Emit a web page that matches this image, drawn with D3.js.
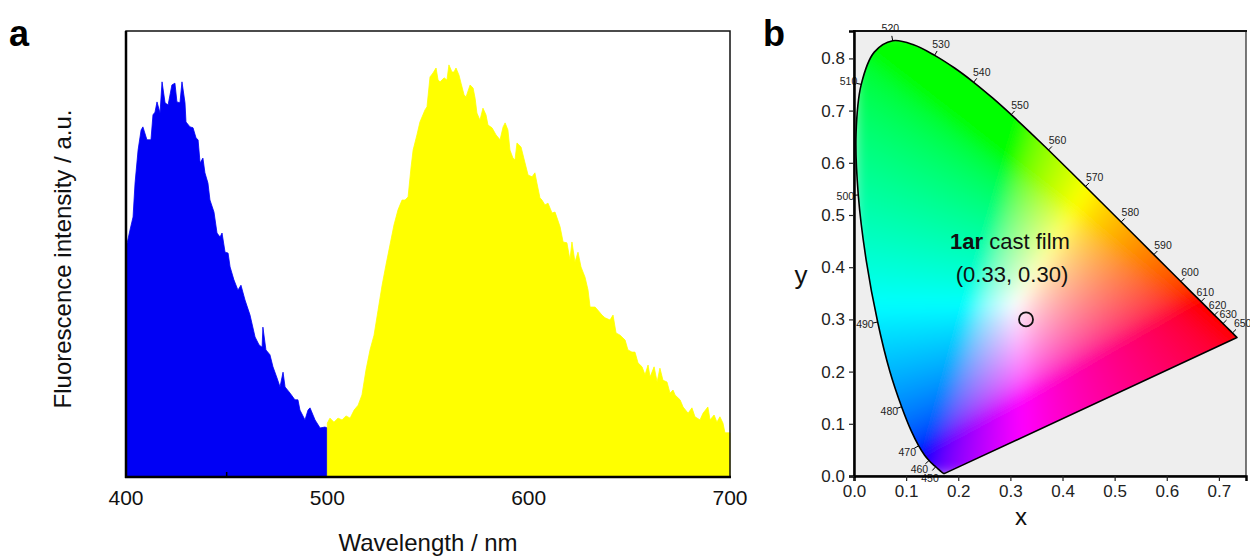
<!DOCTYPE html>
<html>
<head>
<meta charset="utf-8">
<script src="https://cdn.jsdelivr.net/npm/d3@7"></script>
<style>
  body { margin:0; background:#fff; }
  svg { font-family: "Liberation Sans", Arial, sans-serif; }
</style>
</head>
<body>
<svg id="chart" width="1250" height="556"></svg>
<script>
// panel a: emission spectrum, [wavelength nm, intensity a.u.]
let blueSpectrum = [[400,51.3],[402,55.4],[403.5,58.3],[404.5,65.9],[406,73.3],[407.5,77.8],[408.4,78.5],[410.4,75.6],[412.4,75.6],[413.4,81.2],
  [414.4,81.8],[415.4,84.1],[416.9,81.6],[417.9,88.6],[419.4,83.9],[420.9,83.4],[422.8,87.9],[424.3,88.3],[425.3,84.1],[426.8,83.9],
  [427.8,88.6],[429.3,83.9],[429.8,79.6],[431.8,78.5],[433.3,78.3],[434.8,76.0],[435.8,75.6],[436.8,70.4],[438.2,71.5],[439.2,68.2],
  [440.7,65.9],[441.7,62.1],[443.7,59.4],[445.2,54.7],[446.7,53.8],[447.7,54.7],[449.2,50.4],[450.7,50.2],[451.7,47.1],[453.6,44.2],
  [455.6,41.9],[457.1,43.0],[459.1,39.7],[461.6,36.3],[464.1,31.4],[466.1,29.6],[467.6,29.1],[468,33.6],[469.5,28.5],[471.5,27.4],
  [473,24.7],[475,22.2],[476.5,20.2],[478,23.5],[479,20.2],[481.5,18.8],[483.9,17.3],[485.4,17.3],[486.4,15.0],[488.9,12.8],
  [490.4,15.0],[491.4,15.5],[493.9,12.8],[496.4,11.0],[498.8,11.2],[500,11.0]];
let yellowSpectrum = [[500,12.1],[501.3,13.2],[503.3,12.3],[505.3,13.2],[507.3,12.8],[509.3,13.7],[511.3,13.2],[513.3,15.0],[515.3,16.1],[517.2,18.4],
  [519.2,24.0],[521.2,28.5],[523.2,31.8],[525.2,37.4],[527.2,43.0],[529.1,47.5],[531.1,52.0],[533.1,56.5],[535.1,59.9],[537.1,62.1],
  [538.6,62.1],[540.1,62.8],[541.6,69.5],[542.6,73.3],[544.5,76.7],[546,79.6],[548.5,82.3],[549.5,83.0],[551,89.7],[552.5,90.6],
  [554,91.7],[555,89.0],[556,88.6],[558,89.5],[559.4,89.0],[560.4,92.4],[561.9,90.8],[562.9,90.8],[563.9,91.7],[565.4,90.1],
  [566.4,88.3],[567.9,85.7],[568.9,85.2],[570.9,87.9],[572.4,87.2],[573.4,84.9],[574.3,81.6],[575.8,80.0],[577.3,82.7],[578.8,81.2],
  [579.8,78.9],[581.8,78.3],[583.8,76.7],[585.8,75.6],[587.3,78.5],[588.3,79.4],[589.7,77.8],[590.7,73.3],[592.2,71.5],[593.2,71.1],
  [594.2,74.9],[596.2,74.0],[598.2,70.4],[599.7,67.7],[601.7,67.3],[603.1,68.2],[604.1,65.9],[605.6,62.6],[606.6,62.1],[608.1,61.0],
  [609.6,61.4],[611.6,59.2],[613.1,59.4],[615.6,56.1],[617.1,52.7],[619,52.5],[620.5,48.7],[621.5,52.7],[623,48.2],[624.5,50.4],
  [626,47.1],[628,44.8],[629.5,41.9],[630.5,38.1],[633,38.1],[634.4,37.4],[636.4,36.3],[637.9,35.7],[640.4,35.2],[641.9,36.3],
  [643.4,32.3],[645.4,31.8],[647.9,30.7],[649.3,28.5],[651.3,28.0],[652.8,28.0],[654.3,25.6],[656.3,24.7],[657.8,22.9],[659.3,25.1],
  [660.3,22.4],[662.3,24.7],[663.8,21.3],[665.2,24.4],[666.7,21.7],[668.7,21.3],[670.2,18.8],[671.7,19.5],[672.7,18.4],[675.2,17.3],
  [676.7,15.7],[679.2,14.3],[681.1,15.5],[682.6,13.5],[685.1,12.8],[686.6,14.3],[689,15.7],[690.1,12.8],[692.1,13.9],[693.5,12.3],
  [695,13.5],[696.5,12.1],[697.5,9.9],[700,9.9]];
let wlTicks = [400, 500, 600, 700];
let wlMinorTicks = [450];

// panel b: CIE 1931 spectral locus [nm, x, y]
let locus = [[380,0.1741,0.0050],[385,0.1740,0.0050],[390,0.1738,0.0049],[395,0.1736,0.0049],[400,0.1733,0.0048],[405,0.1730,0.0048],
  [410,0.1726,0.0048],[415,0.1721,0.0048],[420,0.1714,0.0051],[425,0.1703,0.0058],[430,0.1689,0.0069],[435,0.1669,0.0086],
  [440,0.1644,0.0109],[445,0.1611,0.0138],[450,0.1566,0.0177],[455,0.1510,0.0227],[460,0.1440,0.0297],[465,0.1355,0.0399],
  [470,0.1241,0.0578],[475,0.1096,0.0868],[480,0.0913,0.1327],[485,0.0687,0.2007],[490,0.0454,0.2950],[495,0.0235,0.4127],
  [500,0.0082,0.5384],[505,0.0039,0.6548],[510,0.0139,0.7502],[515,0.0389,0.8120],[520,0.0743,0.8338],[525,0.1142,0.8262],
  [530,0.1547,0.8059],[535,0.1929,0.7816],[540,0.2296,0.7543],[545,0.2658,0.7243],[550,0.3016,0.6923],[555,0.3373,0.6589],
  [560,0.3731,0.6245],[565,0.4087,0.5896],[570,0.4441,0.5547],[575,0.4788,0.5202],[580,0.5125,0.4866],[585,0.5448,0.4544],
  [590,0.5752,0.4242],[595,0.6029,0.3965],[600,0.6270,0.3725],[605,0.6482,0.3514],[610,0.6658,0.3340],[615,0.6801,0.3197],
  [620,0.6915,0.3083],[625,0.7006,0.2993],[630,0.7079,0.2920],[635,0.7140,0.2859],[640,0.7190,0.2809],[645,0.7230,0.2770],
  [650,0.7260,0.2740],[655,0.7283,0.2717],[660,0.7300,0.2700],[665,0.7311,0.2689],[670,0.7320,0.2680],[675,0.7327,0.2673],
  [680,0.7334,0.2666],[685,0.7340,0.2660],[690,0.7344,0.2656],[695,0.7346,0.2654],[700,0.7347,0.2653]];
let locusLabels = [450,460,470,480,490,500,510,520,530,540,550,560,570,580,590,600,610,620,630,650];
let cieTicks = [0, 0.1, 0.2, 0.3, 0.4, 0.5, 0.6, 0.7];
let cieYTicks = [0, 0.1, 0.2, 0.3, 0.4, 0.5, 0.6, 0.7, 0.8];
let sample = {name: "1ar", rest: " cast film", x: 0.33, y: 0.30};

let svg = d3.select("#chart");
let defs = svg.append("defs");

// ---------- panel a ----------
let xA = d3.scaleLinear().domain([400, 700]).range([126, 730]);
let yA = d3.scaleLinear().domain([0, 100]).range([477, 31]);

let areaA = d3.area()
  .x(d => xA(d[0]))
  .y0(yA(0))
  .y1(d => yA(d[1]));

svg.append("path").attr("d", areaA(blueSpectrum)).attr("fill", "#0000f5").attr("stroke", "#0000f5").attr("stroke-width", 0.8);
svg.append("path").attr("d", areaA(yellowSpectrum)).attr("fill", "#ffff00").attr("stroke", "#ffff00").attr("stroke-width", 0.8);

// inner tick
svg.selectAll(".minorA").data(wlMinorTicks).enter().append("line")
  .attr("x1", d => xA(d)).attr("x2", d => xA(d))
  .attr("y1", yA(0)).attr("y2", yA(0) - 5)
  .attr("stroke", "#000").attr("stroke-width", 1.5);

// frame
svg.append("rect").attr("x", 126).attr("y", 31).attr("width", 604).attr("height", 446)
  .attr("fill", "none").attr("stroke", "#111").attr("stroke-width", 1.5);
svg.append("line").attr("x1", 126).attr("x2", 126).attr("y1", 31).attr("y2", 478).attr("stroke", "#000").attr("stroke-width", 2.5);
svg.append("line").attr("x1", 125).attr("x2", 731).attr("y1", 477).attr("y2", 477).attr("stroke", "#000").attr("stroke-width", 2.5);

svg.selectAll(".tickA").data(wlTicks).enter().append("text")
  .attr("x", d => xA(d)).attr("y", 505)
  .attr("text-anchor", "middle").attr("font-size", 21).attr("fill", "#111")
  .text(d => d);

svg.append("text").attr("x", 428).attr("y", 551).attr("text-anchor", "middle")
  .attr("font-size", 24).attr("fill", "#111").text("Wavelength / nm");
svg.append("text").attr("transform", "translate(71,259) rotate(-90)").attr("text-anchor", "middle")
  .attr("font-size", 24).attr("fill", "#111").text("Fluorescence intensity / a.u.");
svg.append("text").attr("x", 9).attr("y", 46).attr("font-size", 36).attr("font-weight", "bold").text("a");

// ---------- panel b ----------
let xB = d3.scaleLinear().domain([0, 0.752]).range([854, 1246]);
let yB = d3.scaleLinear().domain([0, 0.8525]).range([476, 31]);

svg.append("rect").attr("x", 854).attr("y", 31).attr("width", 392).attr("height", 445).attr("fill", "#eeeeee");

// colour field rendered on a canvas, clipped to the locus
let cw = 392, ch = 445;
let canvas = document.createElement("canvas");
canvas.width = cw; canvas.height = ch;
let ctx = canvas.getContext("2d");
let img = ctx.createImageData(cw, ch);
function gam(c) { return c <= 0.0031308 ? 12.92 * c : 1.055 * Math.pow(c, 1 / 2.4) - 0.055; }
for (let j = 0; j < ch; j++) {
  for (let i = 0; i < cw; i++) {
    let cx = xB.invert(854 + i + 0.5), cy = yB.invert(31 + j + 0.5);
    if (cy < 0.001) cy = 0.001;
    let X = cx / cy, Y = 1, Z = (1 - cx - cy) / cy;
    let r = 3.2406 * X - 1.5372 * Y - 0.4986 * Z;
    let g = -0.9689 * X + 1.8758 * Y + 0.0415 * Z;
    let b = 0.0557 * X - 0.2040 * Y + 1.0570 * Z;
    r = Math.max(r, 0); g = Math.max(g, 0); b = Math.max(b, 0);
    let m = Math.max(r, g, b) || 1;
    let k = (j * cw + i) * 4;
    img.data[k] = 255 * gam(r / m);
    img.data[k + 1] = 255 * gam(g / m);
    img.data[k + 2] = 255 * gam(b / m);
    img.data[k + 3] = 255;
  }
}
ctx.putImageData(img, 0, 0);

// smooth locus through the 5 nm points, closed by the purple line
let locusLine = d3.line().x(d => xB(d[1])).y(d => yB(d[2])).curve(d3.curveCatmullRom.alpha(0.5));
let locusPath = locusLine(locus) + "Z";

defs.append("clipPath").attr("id", "locusClip").append("path").attr("d", locusPath);
defs.append("filter").attr("id", "soft").attr("x", 0).attr("y", 0).attr("width", 1).attr("height", 1)
  .append("feGaussianBlur").attr("stdDeviation", 7).attr("edgeMode", "duplicate");
svg.append("g").attr("clip-path", "url(#locusClip)")
  .append("image").attr("x", 854).attr("y", 31).attr("width", cw).attr("height", ch)
  .attr("href", canvas.toDataURL()).attr("filter", "url(#soft)");
svg.append("path").attr("d", locusPath).attr("fill", "none").attr("stroke", "#000").attr("stroke-width", 1.6)
  .attr("stroke-linejoin", "round");

// wavelength marks on the locus (small nudges where labels crowd)
let labelNudge = {450: [3, 2], 610: [-5, 0], 620: [-6, -1], 630: [-4, 0], 650: [1, 0]};
let byWl = {};
locus.forEach((d, i) => byWl[d[0]] = i);
locusLabels.forEach(function(wl) {
  let i = byWl[wl];
  let a = locus[Math.max(i - 1, 0)], b = locus[Math.min(i + 1, locus.length - 1)];
  let dx = xB(b[1]) - xB(a[1]), dy = yB(b[2]) - yB(a[2]);
  let len = Math.sqrt(dx * dx + dy * dy);
  let nx = dy / len, ny = -dx / len;
  let px = xB(locus[i][1]), py = yB(locus[i][2]);
  let nd = labelNudge[wl] || [0, 0];
  svg.append("line").attr("x1", px).attr("y1", py).attr("x2", px + nx * 5).attr("y2", py + ny * 5)
    .attr("stroke", "#000").attr("stroke-width", 1);
  svg.append("text").attr("x", px + nx * 13 + nd[0]).attr("y", py + ny * 13 + nd[1]).attr("dy", "0.35em")
    .attr("text-anchor", "middle").attr("font-size", 10.5).attr("fill", "#222").text(wl);
});

// sample point
svg.append("circle").attr("cx", xB(sample.x)).attr("cy", yB(sample.y)).attr("r", 7)
  .attr("fill", "none").attr("stroke", "#111").attr("stroke-width", 1.8);
let lab = svg.append("text").attr("x", 1010).attr("y", 249).attr("text-anchor", "middle")
  .attr("font-size", 22).attr("fill", "#111");
lab.append("tspan").attr("font-weight", "bold").text(sample.name);
lab.append("tspan").text(sample.rest);
svg.append("text").attr("x", 1012).attr("y", 282).attr("text-anchor", "middle")
  .attr("font-size", 22).attr("fill", "#111")
  .text("(" + sample.x.toFixed(2) + ", " + sample.y.toFixed(2) + ")");

// frame + axes
svg.append("rect").attr("x", 854).attr("y", 31).attr("width", 392).attr("height", 445)
  .attr("fill", "none").attr("stroke", "#222").attr("stroke-width", 1.2);
svg.append("line").attr("x1", 853).attr("x2", 1247).attr("y1", 31).attr("y2", 31).attr("stroke", "#111").attr("stroke-width", 2);

let axB = svg.append("g").attr("transform", "translate(0,476)")
  .call(d3.axisBottom(xB).tickValues(cieTicks).tickFormat(d3.format(".1f")).tickSize(5).tickPadding(4));
let ayB = svg.append("g").attr("transform", "translate(854,0)")
  .call(d3.axisLeft(yB).tickValues(cieYTicks).tickFormat(d3.format(".1f")).tickSize(5).tickPadding(4));
[axB, ayB].forEach(function(g) {
  g.select(".domain").attr("stroke", "#000").attr("stroke-width", 2.5);
  g.selectAll(".tick line").attr("stroke", "#222").attr("stroke-width", 1.2);
  g.selectAll(".tick text").attr("font-size", 17).attr("fill", "#222")
    .attr("font-family", "Liberation Sans, Arial, sans-serif");
});

svg.append("text").attr("x", 1021).attr("y", 525).attr("text-anchor", "middle")
  .attr("font-size", 24).attr("fill", "#111").text("x");
svg.append("text").attr("x", 801).attr("y", 284).attr("text-anchor", "middle")
  .attr("font-size", 26).attr("fill", "#111").text("y");
svg.append("text").attr("x", 763).attr("y", 46).attr("font-size", 36).attr("font-weight", "bold").text("b");
</script>
</body>
</html>
